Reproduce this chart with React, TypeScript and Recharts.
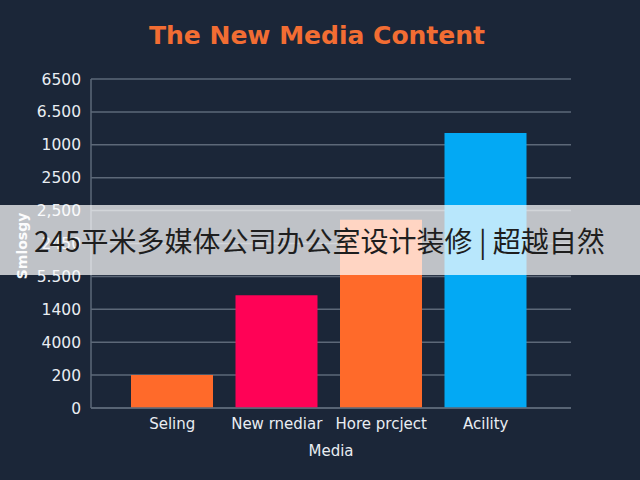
import React from 'react';
import { BarChart, Bar, XAxis, YAxis, CartesianGrid, Cell } from 'recharts';

const categories = ['Seling', 'New rnediar', 'Hore prcject', 'Acility'];
const values = [1, 3.43, 5.72, 8.36];
const barColors = ['#ff6a2a', '#ff0256', '#ff6a2a', '#03a9f4'];
const yTickLabels = ['0', '200', '4000', '1400', '5.500', '2450', '2,500', '2500', '1000', '6.500', '6500'];
const yTicks = [0, 1, 2, 3, 4, 5, 6, 7, 8, 9, 10];

const data = categories.map((name, i) => ({ name, value: values[i] }));

const BG = '#1b2638';
const GRID = '#5d6878';
const TEXT = '#e9edf2';

export default function App() {
  return (
    <div style={{ position: 'relative', width: 640, height: 480, background: BG, overflow: 'hidden' }}>
      <style>{`body{margin:0}`}</style>
      <div
        style={{
          position: 'absolute',
          top: 21,
          left: 0,
          width: 640,
          textAlign: 'center',
          fontFamily: '"DejaVu Sans", sans-serif',
          fontWeight: 'bold',
          fontSize: 25,
          color: '#f26d33',
          transform: 'translateX(-3px)',
        }}
      >
        The New Media Content
      </div>
      <BarChart
        width={640}
        height={480}
        data={data}
        margin={{ top: 79, right: 69, bottom: 0, left: 0 }}
        barSize={82}
      >
        <CartesianGrid vertical={false} stroke={GRID} strokeWidth={1.5} />
        <XAxis
          dataKey="name"
          height={72}
          padding={{ left: 29, right: 33 }}
          stroke={GRID}
          strokeWidth={1.5}
          tickLine={false}
          tickMargin={4}
          tick={{ fill: TEXT, fontSize: 15, fontFamily: '"DejaVu Sans", sans-serif' }}
          label={{
            value: 'Media',
            position: 'insideBottom',
            offset: 24,
            fill: TEXT,
            fontSize: 15,
            fontFamily: '"DejaVu Sans", sans-serif',
          }}
        />
        <YAxis
          type="number"
          domain={[0, 10]}
          ticks={yTicks}
          interval={0}
          width={91}
          stroke={GRID}
          strokeWidth={1.5}
          tickLine={false}
          tickMargin={4}
          tickFormatter={(v: number) => yTickLabels[v]}
          tick={{ fill: TEXT, fontSize: 15.5, fontFamily: '"DejaVu Sans", sans-serif' }}
        />
        <Bar dataKey="value" isAnimationActive={false}>
          {data.map((d, i) => (
            <Cell key={d.name} fill={barColors[i]} />
          ))}
        </Bar>
      </BarChart>
      <div
        style={{
          position: 'absolute',
          left: 22,
          top: 246,
          transform: 'translate(-50%, -50%) rotate(-90deg)',
          fontFamily: '"DejaVu Sans", sans-serif',
          fontWeight: 'bold',
          fontSize: 14,
          color: '#f2f4f7',
          whiteSpace: 'nowrap',
        }}
      >
        Smlosgy
      </div>
      <div
        style={{
          position: 'absolute',
          left: 0,
          top: 205,
          width: 640,
          height: 70,
          background: 'rgba(255,255,255,0.72)',
          display: 'flex',
          alignItems: 'center',
          paddingLeft: 34,
          boxSizing: 'border-box',
          fontFamily: '"Noto Sans CJK SC", sans-serif',
          fontSize: 28,
          color: '#1e1e1e',
          whiteSpace: 'nowrap',
        }}
      >
        245平米多媒体公司办公室设计装修 | 超越自然
      </div>
    </div>
  );
}
